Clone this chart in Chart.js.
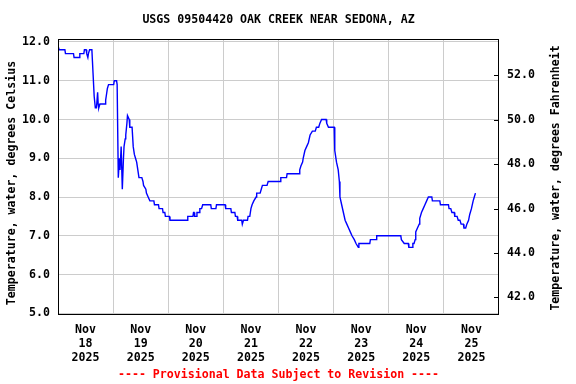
<!DOCTYPE html>
<html>
<head>
<meta charset="utf-8">
<script src="https://cdn.jsdelivr.net/npm/chart.js@4/dist/chart.umd.min.js"></script>
<style>
html,body{margin:0;padding:0;background:#fff;}
canvas{display:block;}
</style>
</head>
<body>
<canvas id="c" width="576" height="384"></canvas>
<script>
// Hours since 2025-11-18 00:00 (local)
const hours = [0,0.5,3,3.25,6.75,7,9.25,9.5,11.25,11.5,12.25,12.5,13,13.25,13.75,14.75,15,15.25,15.75,16.25,16.75,17.25,17.5,17.75,18.25,20.5,20.75,21,21.5,22,24.25,24.5,25.5,25.75,26.25,26.5,26.75,27,27.5,28,28.5,28.75,29.25,29.5,30,30.25,31,31.25,32.25,32.75,33.25,33.75,34.25,34.75,35.25,36.5,37,37.25,38.25,38.5,39.25,40,41.75,42,43.75,44,45.5,45.75,46.5,46.75,48.5,48.75,56.25,56.5,58.75,59,59.25,59.5,60.25,60.5,61.5,61.75,62.5,63,66.5,66.75,68.75,69,72.75,73,75.25,75.5,77,77.25,78,78.25,80,80.25,80.75,82.5,82.75,83.5,84,84.5,85.25,86.25,86.5,88,88.5,89,91,91.5,96.75,97,99.5,99.75,105,105.25,105.75,106.5,106.75,107.5,108.25,109,109.75,110.75,112,112.5,113.5,114,114.75,116.75,117,117.75,120.25,120.5,121.25,122,122.5,122.75,123.5,124.25,125,125.75,126.5,127.25,128,129,129.75,130.75,131,135.75,136,138.5,138.75,149.25,149.5,150.75,152.5,152.75,154.25,154.5,155,155.5,155.75,156.5,157.25,157.5,158.25,159,159.75,160.5,161.25,162.75,163,166.25,166.5,170,170.25,171,171.5,172.5,172.75,173.75,174.25,175,175.5,176.5,176.75,177.5,178,178.75,179.25,180,180.75,181.25,181.75];
const tempC = [11.9,11.8,11.8,11.7,11.7,11.6,11.6,11.7,11.7,11.8,11.8,11.7,11.6,11.7,11.8,11.8,11.5,11.2,10.6,10.3,10.3,10.7,10.4,10.3,10.4,10.4,10.5,10.6,10.8,10.9,10.9,11.0,11.0,10.9,8.5,8.5,9.0,8.7,9.3,8.2,9.0,9.3,9.5,9.6,9.9,10.1,10.0,9.8,9.8,9.3,9.1,9.0,8.9,8.7,8.5,8.5,8.4,8.3,8.2,8.1,8.0,7.9,7.9,7.8,7.8,7.7,7.7,7.6,7.6,7.5,7.5,7.4,7.4,7.5,7.5,7.6,7.6,7.5,7.5,7.6,7.6,7.7,7.7,7.8,7.8,7.7,7.7,7.8,7.8,7.7,7.7,7.6,7.6,7.5,7.5,7.4,7.4,7.3,7.4,7.4,7.5,7.5,7.7,7.8,7.9,8.0,8.1,8.1,8.2,8.3,8.3,8.4,8.4,8.5,8.5,8.6,8.6,8.7,8.8,8.9,9.0,9.2,9.3,9.4,9.6,9.7,9.7,9.8,9.8,9.9,10.0,10.0,9.9,9.8,9.8,9.2,8.9,8.7,8.4,8.0,7.8,7.6,7.4,7.3,7.2,7.1,7.0,6.9,6.8,6.7,6.8,6.8,6.9,6.9,7.0,7.0,6.9,6.8,6.8,6.7,6.7,6.8,6.8,6.9,7.1,7.2,7.3,7.45,7.6,7.7,7.8,7.9,8.0,8.0,7.9,7.9,7.8,7.8,7.7,7.7,7.6,7.6,7.5,7.5,7.4,7.4,7.3,7.3,7.2,7.2,7.3,7.4,7.55,7.7,7.9,8.0,8.1];
const dayLabels = ['18','19','20','21','22','23','24','25'];
const monthLabel = 'Nov';
const yearLabel = '2025';
const celsiusTicks = [5,6,7,8,9,10,11,12];
const fahrenheitTicks = [42,44,46,48,50,52];

const titleText = 'USGS 09504420 OAK CREEK NEAR SEDONA, AZ';
const leftTitle = 'Temperature, water, degrees Celsius';
const rightTitle = 'Temperature, water, degrees Fahrenheit';
const footerText = '---- Provisional Data Subject to Revision ----';

const FONT = 'bold 11.6px "DejaVu Sans Mono", "Liberation Mono", monospace';
const fontObj = {family: '"DejaVu Sans Mono", "Liberation Mono", monospace', size: 11.6, weight: 'bold', lineHeight: '14px'};

const points = hours.map((h, i) => ({x: h, y: tempC[i]}));

const decor = {
  id: 'decor',
  beforeDatasetsDraw(chart) {
    const ctx = chart.ctx;
    const a = chart.chartArea;
    ctx.save();
    ctx.beginPath();
    ctx.rect(a.left, a.top, a.right - a.left, a.bottom - a.top);
    ctx.clip();
  },
  afterDatasetsDraw(chart) {
    chart.ctx.restore();
  },
  afterDraw(chart) {
    const ctx = chart.ctx;
    const a = chart.chartArea;
    ctx.save();
    ctx.strokeStyle = '#000';
    ctx.lineWidth = 1;
    ctx.strokeRect(Math.round(a.left) + 0.5, Math.round(a.top) + 0.5, Math.round(a.right - a.left) - 1, Math.round(a.bottom - a.top) - 1);
    const y2 = chart.scales.y2;
    ctx.beginPath();
    fahrenheitTicks.forEach(v => {
      const py = Math.round(y2.getPixelForValue(v)) + 0.5;
      ctx.moveTo(a.right - 5, py);
      ctx.lineTo(a.right, py);
    });
    ctx.stroke();
    ctx.font = FONT;
    ctx.fillStyle = '#000';
    ctx.textAlign = 'center';
    ctx.textBaseline = 'middle';
    ctx.fillText(titleText, (a.left + a.right) / 2, 19.5);
    ctx.fillStyle = '#ff0000';
    ctx.fillText(footerText, (a.left + a.right) / 2, 375);
    ctx.fillStyle = '#000';
    ctx.save();
    ctx.translate(12, 183);
    ctx.rotate(-Math.PI / 2);
    ctx.fillText(leftTitle, 0, 0);
    ctx.restore();
    ctx.save();
    ctx.translate(556, 178);
    ctx.rotate(-Math.PI / 2);
    ctx.fillText(rightTitle, 0, 0);
    ctx.restore();
    ctx.restore();
  }
};

new Chart(document.getElementById('c'), {
  type: 'line',
  data: {
    datasets: [{
      data: points,
      borderColor: '#0000ff',
      borderWidth: 1.4,
      pointRadius: 0,
      tension: 0,
      fill: false,
      yAxisID: 'y'
    }]
  },
  options: {
    responsive: false,
    animation: false,
    devicePixelRatio: 1,
    layout: {padding: {top: 39, left: 0, right: 0, bottom: 0}},
    plugins: {legend: {display: false}, tooltip: {enabled: false}, title: {display: false}},
    scales: {
      x: {
        type: 'linear',
        position: 'bottom',
        min: 0,
        max: 192,
        afterBuildTicks: s => { const t = []; for (let h = 0; h <= 192; h += 12) t.push({value: h}); s.ticks = t; },
        afterFit: s => { s.height = 69; },
        grid: {
          drawTicks: false,
          color: c => (c.tick && c.tick.value % 24 === 0 && c.tick.value > 0 && c.tick.value < 192) ? '#cccccc' : 'rgba(0,0,0,0)',
          lineWidth: 1
        },
        border: {display: false},
        ticks: {
          autoSkip: false,
          maxRotation: 0,
          minRotation: 0,
          padding: 8,
          color: '#000',
          font: fontObj,
          callback: v => (v % 24 === 12) ? [monthLabel, dayLabels[Math.floor(v / 24)], yearLabel] : ''
        }
      },
      y: {
        type: 'linear',
        position: 'left',
        min: 4.956,
        max: 12.077,
        afterBuildTicks: s => { s.ticks = celsiusTicks.map(v => ({value: v})); },
        afterFit: s => { s.width = 58; },
        grid: {drawTicks: false, color: '#cccccc', lineWidth: 1},
        border: {display: false},
        ticks: {padding: 8, color: '#000', font: fontObj, callback: v => Number(v).toFixed(1)}
      },
      y2: {
        type: 'linear',
        position: 'right',
        min: 41.21,
        max: 53.64,
        afterBuildTicks: s => { s.ticks = fahrenheitTicks.map(v => ({value: v})); },
        afterFit: s => { s.width = 77; },
        grid: {display: false, drawTicks: false},
        border: {display: false},
        ticks: {padding: 8, color: '#000', font: fontObj, callback: v => Number(v).toFixed(1)}
      }
    }
  },
  plugins: [decor]
});
</script>
</body>
</html>
